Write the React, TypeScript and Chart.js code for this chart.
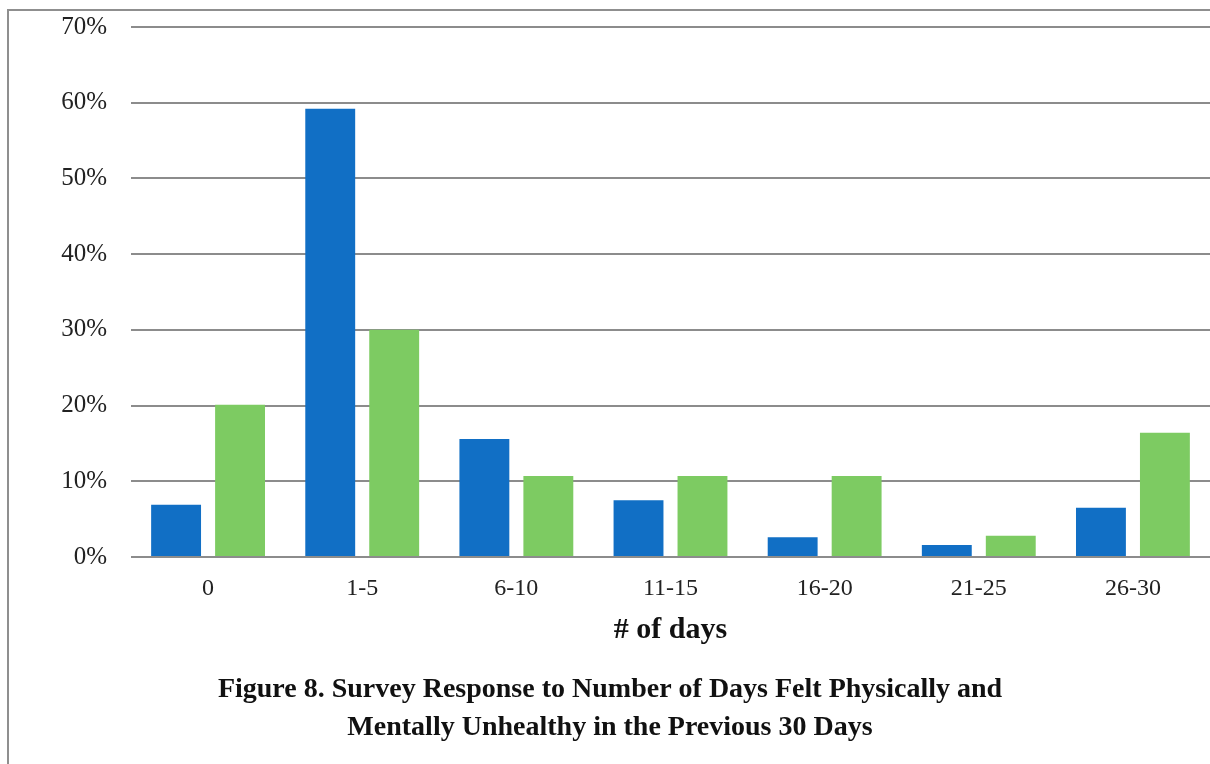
import React, { useEffect, useRef } from "react";
import { Chart, registerables } from "chart.js";

Chart.register(...registerables);

const categories = ["0", "1-5", "6-10", "11-15", "16-20", "21-25", "26-30"];
const physicalValues = [6.9, 59.2, 15.6, 7.5, 2.6, 1.6, 6.5];
const mentalValues = [20.1, 30.0, 10.7, 10.7, 10.7, 2.8, 16.4];
const yTicks = [0, 10, 20, 30, 40, 50, 60, 70];
const xAxisTitle = "# of days";
const captionLines = [
  "Figure 8. Survey Response to Number of Days Felt Physically and",
  "Mentally Unhealthy in the Previous 30 Days",
];

const FONT = "'Liberation Serif', 'Times New Roman', serif";

export default function App() {
  const ref = useRef<HTMLCanvasElement | null>(null);

  useEffect(() => {
    if (!ref.current) return;
    const chart = new Chart(ref.current, {
      type: "bar",
      data: {
        labels: categories,
        datasets: [
          {
            label: "Physically unhealthy",
            data: physicalValues,
            backgroundColor: "#116FC5",
            categoryPercentage: 0.83,
            barPercentage: 0.78,
          },
          {
            label: "Mentally unhealthy",
            data: mentalValues,
            backgroundColor: "#7DCB62",
            categoryPercentage: 0.83,
            barPercentage: 0.78,
          },
        ],
      },
      options: {
        animation: false,
        responsive: false,
        maintainAspectRatio: false,
        layout: { padding: { top: 27, left: 10, right: 0, bottom: 0 } },
        plugins: {
          legend: { display: false },
          tooltip: { enabled: false },
          title: {
            display: true,
            position: "bottom",
            text: captionLines,
            color: "#111",
            font: { family: FONT, size: 28, weight: "bold", lineHeight: 38 / 28 },
            padding: { top: 0, bottom: 17 },
          },
        },
        scales: {
          x: {
            grid: { display: false, drawTicks: false },
            border: { display: false },
            ticks: {
              color: "#222",
              font: { family: FONT, size: 24 },
              padding: 17,
            },
            title: {
              display: true,
              text: xAxisTitle,
              color: "#111",
              font: { family: FONT, size: 30, weight: "bold", lineHeight: 1.2 },
              padding: { top: 0, bottom: 23 },
            },
            afterFit: (s: any) => {
              s.height = 114;
            },
          },
          y: {
            min: 0,
            max: 70,
            afterBuildTicks: (s: any) => {
              s.ticks = yTicks.map((v) => ({ value: v }));
            },
            grid: {
              color: "#8c8c8c",
              lineWidth: 2,
              drawTicks: false,
            },
            border: { display: false },
            ticks: {
              color: "#222",
              font: { family: FONT, size: 25 },
              padding: 24,
              callback: (v: any) => v + "%",
            },
            afterFit: (s: any) => {
              s.width = 121;
              s.paddingTop = 0;
              s.paddingBottom = 0;
            },
          },
        },
      },
    });
    return () => chart.destroy();
  }, []);

  return (
    <div style={{ position: "fixed", left: 0, top: 0, width: 1210, height: 764, background: "#fff" }}>
      <div
        style={{
          position: "absolute",
          left: 7,
          top: 9,
          right: 0,
          bottom: 0,
          borderTop: "2px solid #8f8f8f",
          borderLeft: "2px solid #8f8f8f",
        }}
      />
      <canvas ref={ref} width={1210} height={764} style={{ position: "absolute", left: 0, top: 0 }} />
    </div>
  );
}
